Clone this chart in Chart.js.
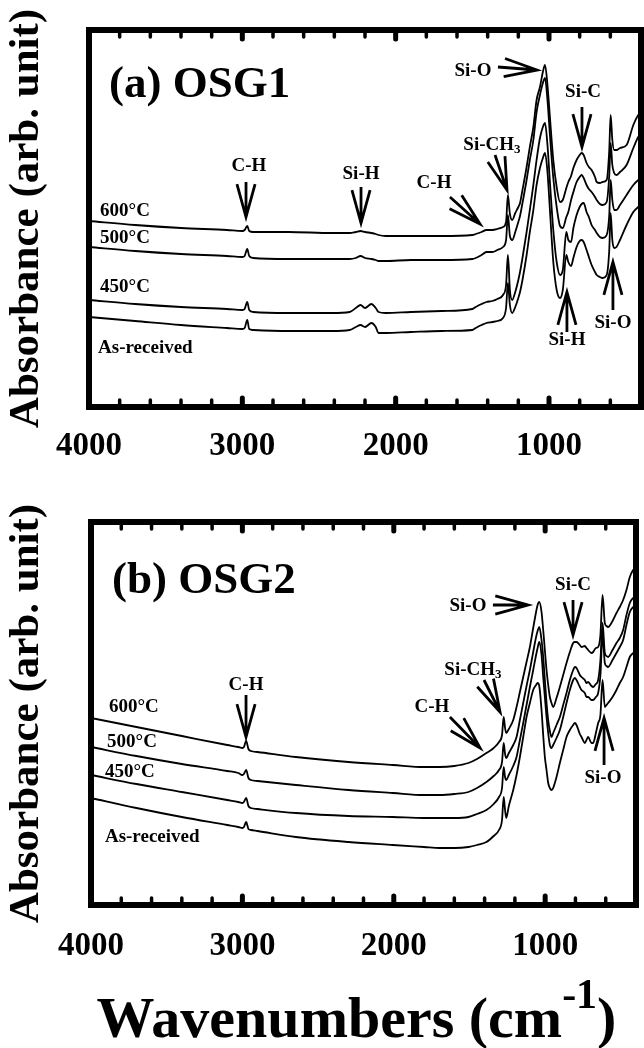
<!DOCTYPE html>
<html>
<head>
<meta charset="utf-8">
<script src="https://cdn.jsdelivr.net/npm/chart.js@4.4.1/dist/chart.umd.min.js"></script>
<style>
html,body{margin:0;padding:0;background:#fff;}
#wrap{position:relative;width:644px;height:1048px;overflow:hidden;background:#fff;}
canvas{position:absolute;left:0;}
#cA{top:0;}
#cB{top:480px;}
</style>
</head>
<body>
<div id="wrap">
<canvas id="cA" width="644" height="480"></canvas>
<canvas id="cB" width="644" height="568"></canvas>
</div>
<script>
// ---------------- DATA ----------------
const seriesLabels = ['600°C', '500°C', '450°C', 'As-received'];
const tickValues = [4000, 3000, 2000, 1000];

// (a) OSG1 — wavenumber grid (cm-1) and absorbance (arb. unit)
const wavenumbersA = [4000,3700,3400,3100,3000,2985,2968,2955,2930,2700,2416,2300,2260,2229,2200,2158,2130,2112,2065,1900,1700,1500,1478,1440,1408,1370,1337,1300,1280,1268,1255,1240,1220,1200,1189,1173,1146,1125,1102,1081,1059,1040,1026,1010,994,972,950,928,910,887,874,856,841,820,800,787,774,755,740,722,700,689,668,650,624,607,598,587,575,560,537,494,450,418,400];
const osg1_600 = [1.86,1.82,1.79,1.77,1.76,1.77,1.81,1.76,1.75,1.75,1.74,1.74,1.75,1.76,1.75,1.74,1.73,1.72,1.71,1.71,1.71,1.72,1.73,1.75,1.77,1.77,1.78,1.80,1.85,2.12,1.93,1.87,1.94,2.00,2.04,2.17,2.40,2.60,2.80,3.07,3.20,3.35,3.42,3.22,2.90,2.47,2.20,2.05,2.07,2.19,2.25,2.31,2.39,2.47,2.52,2.54,2.52,2.44,2.40,2.37,2.30,2.25,2.24,2.25,2.27,2.57,2.92,2.67,2.57,2.57,2.59,2.62,2.82,2.92,2.95];
const osg1_500 = [1.60,1.56,1.53,1.51,1.50,1.51,1.58,1.51,1.49,1.48,1.48,1.48,1.49,1.51,1.49,1.48,1.47,1.46,1.46,1.47,1.47,1.48,1.49,1.52,1.55,1.55,1.57,1.60,1.67,1.92,1.71,1.67,1.75,1.85,1.91,2.04,2.27,2.47,2.67,2.95,3.12,3.24,3.29,3.07,2.72,2.29,2.00,1.81,1.79,1.90,1.95,2.07,2.15,2.25,2.30,2.32,2.29,2.22,2.18,2.15,2.10,2.07,2.03,2.02,2.05,2.32,2.64,2.42,2.34,2.32,2.35,2.42,2.59,2.70,2.73];
const osg1_450 = [1.07,1.03,1.00,0.98,0.97,0.98,1.05,0.97,0.95,0.94,0.94,0.95,0.99,1.02,0.99,1.03,0.99,0.95,0.94,0.95,0.96,0.98,1.00,1.03,1.05,1.06,1.08,1.12,1.22,1.52,1.17,1.07,1.15,1.27,1.35,1.49,1.75,1.97,2.22,2.47,2.69,2.80,2.84,2.62,2.25,1.77,1.45,1.32,1.37,1.75,1.67,1.65,1.79,1.92,2.00,2.03,2.04,1.95,1.90,1.82,1.77,1.74,1.70,1.69,1.72,1.92,2.27,2.07,1.97,1.97,2.02,2.12,2.22,2.27,2.29];
const osg1_asReceived = [0.90,0.86,0.82,0.79,0.78,0.79,0.87,0.78,0.77,0.76,0.76,0.77,0.80,0.82,0.80,0.84,0.80,0.74,0.74,0.75,0.76,0.77,0.79,0.82,0.84,0.85,0.86,0.89,0.99,1.24,1.02,0.94,1.00,1.09,1.15,1.27,1.52,1.75,1.97,2.22,2.39,2.49,2.54,2.35,1.97,1.45,1.17,1.09,1.17,1.52,1.45,1.41,1.49,1.60,1.66,1.67,1.65,1.57,1.50,1.42,1.35,1.32,1.30,1.29,1.32,1.57,1.94,1.67,1.59,1.60,1.67,1.82,1.95,2.00,2.02];

// (b) OSG2
const wavenumbersB = [4000,3700,3400,3100,3027,3000,2990,2975,2960,2944,2900,2647,2300,2006,1800,1697,1600,1507,1450,1388,1340,1305,1285,1274,1265,1257,1240,1211,1189,1167,1145,1123,1101,1079,1060,1050,1039,1024,1013,1002,991,980,969,958,947,925,903,881,859,837,815,804,793,771,760,738,727,716,694,683,665,650,635,621,606,595,584,555,529,507,485,463,441,419,400];
const osg2_600 = [1.87,1.78,1.69,1.60,1.58,1.57,1.58,1.64,1.56,1.54,1.53,1.48,1.43,1.40,1.38,1.38,1.39,1.42,1.46,1.52,1.57,1.63,1.70,1.88,1.77,1.72,1.76,1.85,1.98,2.13,2.28,2.43,2.58,2.77,2.93,3.00,3.03,2.93,2.75,2.55,2.35,2.20,2.08,2.02,1.98,2.07,2.18,2.30,2.42,2.53,2.62,2.63,2.63,2.60,2.58,2.59,2.57,2.55,2.52,2.53,2.57,2.58,2.70,3.10,2.82,2.79,2.78,2.84,2.92,2.98,3.05,3.15,3.28,3.35,3.38];
const osg2_500 = [1.58,1.49,1.41,1.34,1.32,1.30,1.31,1.35,1.27,1.25,1.24,1.20,1.15,1.12,1.10,1.10,1.11,1.13,1.17,1.23,1.29,1.35,1.43,1.62,1.51,1.47,1.52,1.60,1.68,1.85,2.02,2.19,2.35,2.53,2.68,2.74,2.78,2.65,2.48,2.25,2.02,1.85,1.74,1.68,1.72,1.80,1.88,2.00,2.12,2.25,2.35,2.38,2.37,2.30,2.28,2.25,2.22,2.23,2.19,2.18,2.21,2.25,2.45,2.82,2.52,2.49,2.48,2.55,2.62,2.67,2.75,2.90,3.02,3.07,3.09];
const osg2_450 = [1.30,1.21,1.13,1.05,1.03,1.02,1.03,1.07,0.99,0.97,0.96,0.92,0.89,0.88,0.87,0.87,0.87,0.88,0.91,0.95,1.01,1.08,1.17,1.38,1.28,1.25,1.30,1.39,1.48,1.65,1.82,2.00,2.18,2.35,2.50,2.57,2.63,2.50,2.28,2.08,1.88,1.72,1.60,1.57,1.60,1.67,1.75,1.88,2.02,2.15,2.25,2.27,2.25,2.18,2.15,2.12,2.08,2.08,2.05,2.05,2.08,2.12,2.30,2.70,2.42,2.39,2.38,2.45,2.52,2.58,2.65,2.80,2.93,2.98,3.00];
const osg2_asReceived = [1.07,0.97,0.88,0.80,0.78,0.77,0.78,0.83,0.76,0.75,0.74,0.68,0.63,0.60,0.58,0.57,0.57,0.58,0.60,0.63,0.69,0.75,0.85,1.08,0.95,0.87,0.99,1.15,1.30,1.48,1.68,1.88,2.02,2.15,2.20,2.22,2.19,1.95,1.70,1.48,1.35,1.22,1.17,1.15,1.17,1.28,1.42,1.55,1.68,1.75,1.80,1.82,1.80,1.71,1.68,1.62,1.65,1.68,1.62,1.62,1.72,1.82,1.90,2.25,1.98,2.00,2.02,2.08,2.15,2.22,2.28,2.38,2.48,2.52,2.55];

// ---------------- ANNOTATIONS (anchored in data units: [wavenumber, absorbance]) ----------------
const annotationsA = {
  texts: [
    {parts: [['(a) OSG1', 45]], at: [3870, 3.10], align: 'left', baseline: 'alphabetic'},
    {parts: [['C-H', 19]], at: [2957, 2.41]},
    {parts: [['Si-H', 19]], at: [2226, 2.33]},
    {parts: [['C-H', 19]], at: [1750, 2.24]},
    {parts: [['Si-CH', 19], ['3', 13, 5]], at: [1372, 2.62]},
    {parts: [['Si-O', 19]], at: [1496, 3.36]},
    {parts: [['Si-C', 19]], at: [778, 3.15]},
    {parts: [['Si-H', 19]], at: [883, 0.67]},
    {parts: [['Si-O', 19]], at: [583, 0.84]},
    {parts: [['600°C', 19]], at: [3928, 1.96], align: 'left'},
    {parts: [['500°C', 19]], at: [3928, 1.69], align: 'left'},
    {parts: [['450°C', 19]], at: [3928, 1.20], align: 'left'},
    {parts: [['As-received', 19]], at: [3941, 0.59], align: 'left'}
  ],
  arrows: [
    [[2976, 2.25], [2976, 1.90]],
    [[2226, 2.20], [2226, 1.84]],
    [[1646, 2.10], [1450, 1.83]],
    [[1352, 2.52], [1274, 2.17]],
    [[1333, 3.40], [1078, 3.37]],
    [[785, 3.00], [785, 2.60]],
    [[883, 0.75], [883, 1.15]],
    [[583, 0.97], [583, 1.45]]
  ]
};
const annotationsB = {
  texts: [
    {parts: [['(b) OSG2', 45]], at: [3861, 3.12], align: 'left', baseline: 'alphabetic'},
    {parts: [['C-H', 19]], at: [2976, 2.20]},
    {parts: [['C-H', 19]], at: [1748, 1.98]},
    {parts: [['Si-CH', 19], ['3', 13, 5]], at: [1477, 2.35]},
    {parts: [['Si-O', 19]], at: [1510, 2.99]},
    {parts: [['Si-C', 19]], at: [816, 3.20]},
    {parts: [['Si-O', 19]], at: [618, 1.27]},
    {parts: [['600°C', 19]], at: [3881, 1.98], align: 'left'},
    {parts: [['500°C', 19]], at: [3894, 1.63], align: 'left'},
    {parts: [['450°C', 19]], at: [3908, 1.33], align: 'left'},
    {parts: [['As-received', 19]], at: [3908, 0.68], align: 'left'}
  ],
  arrows: [
    [[2976, 2.10], [2976, 1.68]],
    [[1629, 1.88], [1430, 1.57]],
    [[1404, 2.25], [1298, 1.93]],
    [[1345, 3.00], [1113, 3.00]],
    [[816, 3.05], [816, 2.70]],
    [[611, 1.40], [611, 1.87]]
  ],
  xTitle: {parts: [['Wavenumbers (cm', 58], ['-1', 42, -29], [')', 58]], dx: -7, dy: 132}
};

// ---------------- DRAWING ----------------
const SERIF = "'Liberation Serif', 'Times New Roman', serif";

function drawParts(ctx, parts, x, y, align, baseline) {
  ctx.textAlign = 'left';
  ctx.textBaseline = baseline || 'middle';
  const widths = parts.map(p => { ctx.font = 'bold ' + p[1] + 'px ' + SERIF; return ctx.measureText(p[0]).width; });
  const total = widths.reduce((a, b) => a + b, 0);
  let cx = align === 'left' ? x : x - total / 2;
  parts.forEach((p, i) => {
    ctx.font = 'bold ' + p[1] + 'px ' + SERIF;
    ctx.fillText(p[0], cx, y + (p[2] || 0));
    cx += widths[i];
  });
}

function drawArrow(ctx, x1, y1, x2, y2) {
  const ang = Math.atan2(y2 - y1, x2 - x1);
  const len = Math.hypot(x2 - x1, y2 - y1);
  const bl = Math.min(len, 34);
  const spread = 0.27;
  ctx.beginPath();
  ctx.moveTo(x1, y1);
  ctx.lineTo(x2, y2);
  ctx.moveTo(x2 - bl * Math.cos(ang - spread), y2 - bl * Math.sin(ang - spread));
  ctx.lineTo(x2, y2);
  ctx.lineTo(x2 - bl * Math.cos(ang + spread), y2 - bl * Math.sin(ang + spread));
  ctx.stroke();
}

const framePlugin = {
  id: 'frame',
  afterDatasetsDraw(chart, args, opts) {
    const {ctx, chartArea: a, scales: {x, y}} = chart;
    ctx.save();
    ctx.strokeStyle = '#000';
    ctx.fillStyle = '#000';
    ctx.lineWidth = 6;
    ctx.lineJoin = 'miter';
    ctx.strokeRect(a.left, a.top, a.right - a.left, a.bottom - a.top);
    ctx.lineCap = 'round';
    for (let w = 3800; w >= 600; w -= 200) {
      const px = x.getPixelForValue(w);
      const major = w % 1000 === 0;
      ctx.lineWidth = major ? 5 : 3.5;
      const L = major ? 9 : 7;
      ctx.beginPath(); ctx.moveTo(px, a.top); ctx.lineTo(px, a.top + L); ctx.stroke();
      ctx.beginPath(); ctx.moveTo(px, a.bottom); ctx.lineTo(px, a.bottom - L); ctx.stroke();
    }
    const ann = opts.ann;
    if (ann) {
      ctx.lineCap = 'butt';
      ctx.lineJoin = 'miter';
      ctx.lineWidth = 2.8;
      ann.arrows.forEach(ar => {
        drawArrow(ctx, x.getPixelForValue(ar[0][0]), y.getPixelForValue(ar[0][1]),
                       x.getPixelForValue(ar[1][0]), y.getPixelForValue(ar[1][1]));
      });
      ann.texts.forEach(t => {
        drawParts(ctx, t.parts, x.getPixelForValue(t.at[0]), y.getPixelForValue(t.at[1]), t.align, t.baseline);
      });
      if (ann.xTitle) {
        const xt = ann.xTitle;
        drawParts(ctx, xt.parts, (a.left + a.right) / 2 + xt.dx, a.bottom + xt.dy, 'center', 'alphabetic');
      }
    }
    ctx.restore();
  }
};

function makeChart(id, wn, series, cfg) {
  return new Chart(document.getElementById(id), {
    type: 'line',
    data: {
      datasets: series.map((s, i) => ({
        label: seriesLabels[i],
        data: wn.map((w, j) => ({x: w, y: s[j]})),
        borderColor: '#000',
        borderWidth: 1.8,
        pointRadius: 0,
        fill: false,
        cubicInterpolationMode: 'monotone'
      }))
    },
    options: {
      responsive: false,
      animation: false,
      devicePixelRatio: 1,
      events: [],
      layout: {padding: {top: cfg.top, right: cfg.right, left: 0, bottom: 0}},
      plugins: {legend: {display: false}, tooltip: {enabled: false}, frame: {ann: cfg.ann}},
      scales: {
        x: {
          type: 'linear', reverse: true, min: 400, max: 4000, position: 'bottom',
          grid: {display: false, drawTicks: false},
          border: {display: false},
          afterBuildTicks: s => { s.ticks = tickValues.map(v => ({value: v})); },
          ticks: {
            autoSkip: false, maxRotation: 0, minRotation: 0, padding: cfg.tickPad, color: '#000',
            font: {family: SERIF, size: 33, weight: 'bold', lineHeight: 1},
            callback: v => String(v)
          },
          afterFit: s => { s.height = cfg.xh; }
        },
        y: {
          min: 0, max: cfg.ymax,
          grid: {display: false, drawTicks: false},
          border: {display: false},
          ticks: {display: false},
          title: {
            display: true, text: 'Absorbance (arb. unit)', color: '#000',
            font: {family: SERIF, size: 43, weight: 'bold', lineHeight: 1},
            padding: {top: 5, bottom: 0}
          },
          afterFit: s => { s.width = cfg.yw; }
        }
      }
    },
    plugins: [framePlugin]
  });
}

makeChart('cA', wavenumbersA, [osg1_600, osg1_500, osg1_450, osg1_asReceived],
  {top: 30, right: 3, yw: 89, xh: 73, ymax: 3.77, tickPad: 22.5, ann: annotationsA});
makeChart('cB', wavenumbersB, [osg2_600, osg2_500, osg2_450, osg2_asReceived],
  {top: 42, right: 8, yw: 91, xh: 143, ymax: 3.83, tickPad: 25, ann: annotationsB});
</script>
</body>
</html>
